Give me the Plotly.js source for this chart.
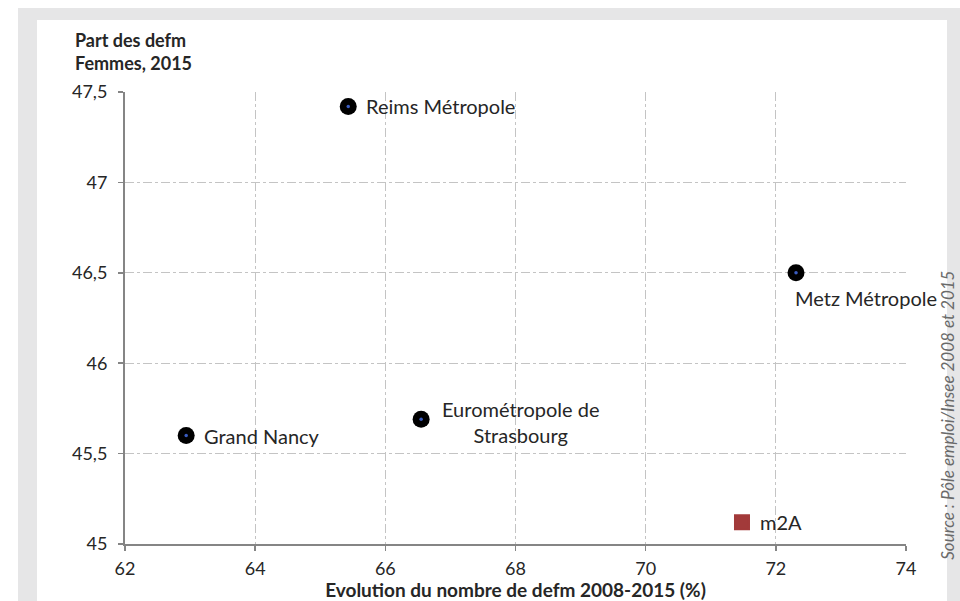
<!DOCTYPE html>
<html>
<head>
<meta charset="utf-8">
<script src="https://cdn.plot.ly/plotly-3.0.1.min.js"></script>
<style>
  html, body { margin: 0; padding: 0; background: #ffffff; }
  #frame { position: absolute; left: 18px; top: 8px; width: 942px; height: 593px; background: #e6e6e7; }
  #panel { position: absolute; left: 37px; top: 20px; width: 910px; height: 581px; background: #ffffff; }
  #chart { position: absolute; left: 0; top: 0; width: 960px; height: 601px; }
</style>
</head>
<body>
<div id="frame"></div>
<div id="panel"></div>
<div id="chart"></div>
<script>
// Data
const territories = ["Reims Métropole", "Metz Métropole", "Eurométropole de<br>Strasbourg", "Grand Nancy", "m2A"];
const evolution2008_2015 = [65.43, 72.31, 66.55, 62.94, 71.48];   // % change in number of defm
const partFemmes2015 = [47.42, 46.50, 45.69, 45.60, 45.12];        // share of women among defm (%)
const xTicks = [62, 64, 66, 68, 70, 72, 74];
const yTicks = [45, 45.5, 46, 46.5, 47, 47.5];

// Style only (label placement, in pixels)
const labelStyle = [
  {xanchor: "left", xshift: 16, yshift: 0},
  {xanchor: "left", xshift: -3, yshift: -25},
  {xanchor: "center", xshift: 100, yshift: -3},
  {xanchor: "left", xshift: 16, yshift: 0},
  {xanchor: "left", xshift: 16, yshift: 0}
];

const FONT = "Lato, 'Open Sans', sans-serif";
const blackIdx = [0, 1, 2, 3];
const redIdx = [4];

const traces = [
  {
    type: "scatter", mode: "markers",
    x: blackIdx.map(i => evolution2008_2015[i]),
    y: blackIdx.map(i => partFemmes2015[i]),
    marker: {symbol: "circle", size: 17, color: "#000000", line: {width: 0}},
    hoverinfo: "skip", cliponaxis: false
  },
  {
    type: "scatter", mode: "markers",
    x: blackIdx.map(i => evolution2008_2015[i]),
    y: blackIdx.map(i => partFemmes2015[i]),
    marker: {symbol: "circle", size: 3.5, color: "#3a5cc0", line: {width: 0}},
    hoverinfo: "skip", cliponaxis: false
  },
  {
    type: "scatter", mode: "markers",
    x: redIdx.map(i => evolution2008_2015[i]),
    y: redIdx.map(i => partFemmes2015[i]),
    marker: {symbol: "square", size: 14, color: "#a23a3a", line: {width: 2, color: "#a23a3a"}},
    hoverinfo: "skip", cliponaxis: false
  }
];

const annotations = territories.map((t, i) => ({
  x: evolution2008_2015[i], y: partFemmes2015[i], xref: "x", yref: "y",
  text: t, showarrow: false,
  xanchor: labelStyle[i].xanchor, yanchor: "middle",
  xshift: labelStyle[i].xshift, yshift: labelStyle[i].yshift,
  font: {family: FONT, size: 20, color: "#262626"},
  align: "center"
}));

annotations.push({
  xref: "paper", yref: "paper", x: -0.066, y: 1.035,
  xanchor: "left", yanchor: "bottom", showarrow: false, align: "left",
  text: "<b>Part des defm<br>Femmes, 2015</b>",
  font: {family: FONT, size: 18, color: "#262626"}
});
annotations.push({
  xref: "paper", yref: "paper", x: 1.0535, y: 0.2854,
  xanchor: "center", yanchor: "middle", showarrow: false, textangle: -90,
  borderpad: 0,
  text: "<i>Source : Pôle emploi/Insee 2008 et 2015</i>",
  font: {family: FONT, size: 17, color: "#6a6a6a"}
});

const layout = {
  width: 960, height: 601,
  margin: {l: 125, r: 54, t: 92, b: 57},
  paper_bgcolor: "rgba(0,0,0,0)",
  plot_bgcolor: "rgba(0,0,0,0)",
  showlegend: false,
  separators: ", ",
  font: {family: FONT, size: 18, color: "#262626"},
  xaxis: {
    range: [62, 74], tickvals: xTicks, ticktext: xTicks.map(String),
    showgrid: true, gridcolor: "#c4c4c4", griddash: "dashdot", gridwidth: 1,
    showline: true, linecolor: "#858585", linewidth: 2,
    ticks: "outside", ticklen: 5, tickcolor: "#858585", tickwidth: 1.5,
    ticklabelstandoff: 2,
    zeroline: false, tickfont: {family: FONT, size: 18, color: "#262626"},
    title: {text: "<b>Evolution du nombre de defm 2008-2015 (%)</b>", standoff: 0,
            font: {family: FONT, size: 19, color: "#262626"}}
  },
  yaxis: {
    range: [45, 47.5], tickvals: yTicks, ticktext: yTicks.map(v => String(v).replace(".", ",")),
    showgrid: true, gridcolor: "#c4c4c4", griddash: "dashdot", gridwidth: 1,
    showline: true, linecolor: "#858585", linewidth: 2,
    ticks: "outside", ticklen: 5, tickcolor: "#858585", tickwidth: 1.5,
    ticklabelstandoff: 7,
    zeroline: false, tickfont: {family: FONT, size: 18, color: "#262626"}
  },
  annotations: annotations
};

Plotly.newPlot("chart", traces, layout, {staticPlot: true, displayModeBar: false});
</script>
</body>
</html>
